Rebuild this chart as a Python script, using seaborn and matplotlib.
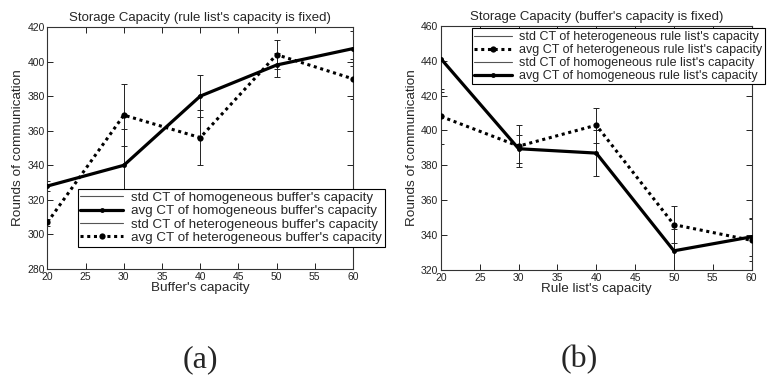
import matplotlib
matplotlib.use("Agg")
import matplotlib.pyplot as plt
import seaborn as sns
import numpy as np
import pandas as pd

# ---- data ----
capacity = [20, 30, 40, 50, 60]

# (a) rule list's capacity fixed, x = buffer's capacity
a_hom_avg = [328, 340, 380, 398, 407.5]
a_hom_std = [3, 21, 12, 7, 10]
a_het_avg = [307, 369, 356, 404, 390]
a_het_std = [2, 18, 16, 8.5, 11.5]

# (b) buffer's capacity fixed, x = rule list's capacity
b_het_avg = [408, 391, 403, 346, 337]
b_het_std = [16, 12, 10, 10.5, 12]
b_hom_avg = [441, 389.5, 387, 331, 339]
b_hom_std = [19, 8, 13, 12.5, 11]

xticks = [20, 25, 30, 35, 40, 45, 50, 55, 60]
a_yticks = [280, 300, 320, 340, 360, 380, 400, 420]
b_yticks = [320, 340, 360, 380, 400, 420, 440, 460]

title_a = "Storage Capacity (rule list's capacity is fixed)"
title_b = "Storage Capacity (buffer's capacity is fixed)"
xlabel_a = "Buffer's capacity"
xlabel_b = "Rule list's capacity"
ylabel = "Rounds of communication"

sns.set_theme(style="white")
plt.rcParams['font.family'] = ['Liberation Sans', 'DejaVu Sans']

fig = plt.figure(figsize=(7.77, 3.76), dpi=100)
ax1 = fig.add_axes([0.0611, 0.2846, 0.3932, 0.6436])
ax2 = fig.add_axes([0.5676, 0.2819, 0.3996, 0.6497])


def draw(ax, series, yticks, title, xlabel, leg_anchor, leg_fs, leg_hl):
    handles = []
    labels = []
    for name, avg, std, style in series:
        df = pd.DataFrame({"x": capacity, "y": avg})
        ax.errorbar(capacity, avg, yerr=std, fmt='none', ecolor='#222222',
                    elinewidth=0.7, capsize=2.5, capthick=0.7, zorder=2)
        std_h = plt.Line2D([], [], color='#555555', lw=0.8)
        if style == 'solid':
            sns.lineplot(data=df, x="x", y="y", ax=ax, color='black',
                         linewidth=2.3, marker='o', markersize=3.5,
                         markeredgewidth=0, zorder=3)
            avg_h = plt.Line2D([], [], color='black', lw=2.3, marker='o',
                               markersize=3.5, markeredgewidth=0)
        else:
            sns.lineplot(data=df, x="x", y="y", ax=ax, color='black',
                         linewidth=2.2, linestyle=(0, (1, 1.2)), marker='o',
                         markersize=4.5, markeredgewidth=0, zorder=3)
            avg_h = plt.Line2D([], [], color='black', lw=2.2,
                               linestyle=(0, (1, 1.2)), marker='o',
                               markersize=4.5, markeredgewidth=0)
        handles += [std_h, avg_h]
        labels += [f"std CT of {name}", f"avg CT of {name}"]

    ax.set_xlim(capacity[0], capacity[-1])
    ax.set_ylim(yticks[0], yticks[-1])
    ax.set_xticks(xticks)
    ax.set_yticks(yticks)
    ax.tick_params(direction='in', length=4, width=0.7, labelsize=7.5,
                   top=True, right=True, bottom=True, left=True,
                   pad=2, colors='#222222')
    for s in ax.spines.values():
        s.set_color('#333333')
        s.set_linewidth(0.8)
        s.set_visible(True)
    ax.set_title(title, fontsize=9.5, pad=4)
    ax.set_xlabel(xlabel, fontsize=9.7, labelpad=0)
    ax.set_ylabel(ylabel, fontsize=9.7, labelpad=2)
    leg = ax.legend(handles, labels, loc='upper left', bbox_to_anchor=leg_anchor,
                    fontsize=leg_fs, frameon=True, fancybox=False, framealpha=1,
                    edgecolor='black', handlelength=leg_hl, labelspacing=0.08,
                    borderpad=0.2, handletextpad=0.6, borderaxespad=0)
    leg.get_frame().set_linewidth(0.8)
    leg.set_zorder(5)


draw(ax1,
     [("homogeneous buffer's capacity", a_hom_avg, a_hom_std, 'solid'),
      ("heterogeneous buffer's capacity", a_het_avg, a_het_std, 'dotted')],
     a_yticks, title_a, xlabel_a, (0.099, 0.331), 9.6, 3.2)
draw(ax2,
     [("heterogeneous rule list's capacity", b_het_avg, b_het_std, 'dotted'),
      ("homogeneous rule list's capacity", b_hom_avg, b_hom_std, 'solid')],
     b_yticks, title_b, xlabel_b, (0.099, 0.989), 9.0, 3.0)

fig.text(0.2585, 0.004, "(a)", family=['Liberation Serif', 'DejaVu Serif'],
         fontsize=23, ha='center', va='bottom')
fig.text(0.745, 0.004, "(b)", family=['Liberation Serif', 'DejaVu Serif'],
         fontsize=23, ha='center', va='bottom')

fig.savefig("out.png", dpi=100)
